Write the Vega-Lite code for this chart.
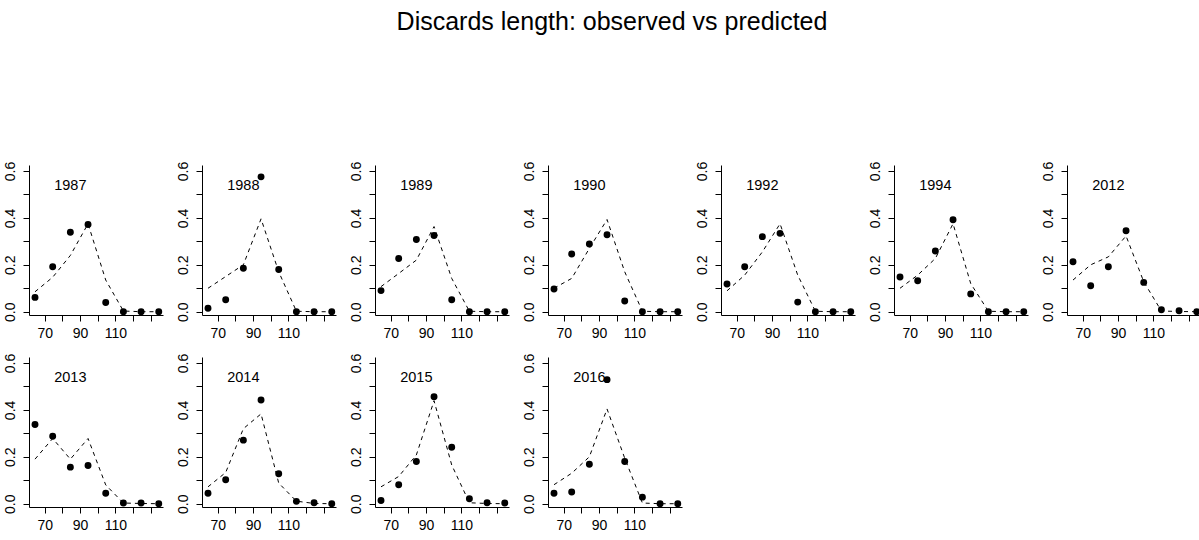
{
  "$schema": "https://vega.github.io/schema/vega-lite/v6.json",
  "padding": {"left": 2, "top": 10, "right": 0, "bottom": 0},
  "background": "white",
  "title": {"text": "Discards length: observed vs predicted", "anchor": "middle", "fontSize": 25, "fontWeight": "normal", "font": "Liberation Sans", "color": "black", "offset": 126, "dx": 10},
  "data": {"values": [
    {"year":"1987","len":64.5,"obs":0.061,"pred":0.085},{"year":"1987","len":74.5,"obs":0.192,"pred":0.147},{"year":"1987","len":84.5,"obs":0.339,"pred":0.24},{"year":"1987","len":94.5,"obs":0.372,"pred":0.375},{"year":"1987","len":104.5,"obs":0.039,"pred":0.135},{"year":"1987","len":114.5,"obs":0,"pred":0.003},{"year":"1987","len":124.5,"obs":0,"pred":0},{"year":"1987","len":134.5,"obs":0,"pred":0},
    {"year":"1988","len":64.5,"obs":0.015,"pred":0.1},{"year":"1988","len":74.5,"obs":0.051,"pred":0.15},{"year":"1988","len":84.5,"obs":0.185,"pred":0.2},{"year":"1988","len":94.5,"obs":0.575,"pred":0.396},{"year":"1988","len":104.5,"obs":0.18,"pred":0.17},{"year":"1988","len":114.5,"obs":0,"pred":0.002},{"year":"1988","len":124.5,"obs":0,"pred":0},{"year":"1988","len":134.5,"obs":0,"pred":0},
    {"year":"1989","len":64.5,"obs":0.09,"pred":0.107},{"year":"1989","len":74.5,"obs":0.227,"pred":0.163},{"year":"1989","len":84.5,"obs":0.308,"pred":0.22},{"year":"1989","len":94.5,"obs":0.325,"pred":0.363},{"year":"1989","len":104.5,"obs":0.051,"pred":0.142},{"year":"1989","len":114.5,"obs":0,"pred":0.002},{"year":"1989","len":124.5,"obs":0,"pred":0},{"year":"1989","len":134.5,"obs":0,"pred":0},
    {"year":"1990","len":64.5,"obs":0.097,"pred":0.1},{"year":"1990","len":74.5,"obs":0.246,"pred":0.142},{"year":"1990","len":84.5,"obs":0.289,"pred":0.27},{"year":"1990","len":94.5,"obs":0.328,"pred":0.393},{"year":"1990","len":104.5,"obs":0.046,"pred":0.17},{"year":"1990","len":114.5,"obs":0,"pred":0.002},{"year":"1990","len":124.5,"obs":0,"pred":0},{"year":"1990","len":134.5,"obs":0,"pred":0},
    {"year":"1992","len":64.5,"obs":0.118,"pred":0.089},{"year":"1992","len":74.5,"obs":0.192,"pred":0.156},{"year":"1992","len":84.5,"obs":0.32,"pred":0.255},{"year":"1992","len":94.5,"obs":0.334,"pred":0.375},{"year":"1992","len":104.5,"obs":0.041,"pred":0.156},{"year":"1992","len":114.5,"obs":0,"pred":0.002},{"year":"1992","len":124.5,"obs":0,"pred":0},{"year":"1992","len":134.5,"obs":0,"pred":0},
    {"year":"1994","len":64.5,"obs":0.148,"pred":0.1},{"year":"1994","len":74.5,"obs":0.132,"pred":0.156},{"year":"1994","len":84.5,"obs":0.259,"pred":0.227},{"year":"1994","len":94.5,"obs":0.392,"pred":0.375},{"year":"1994","len":104.5,"obs":0.076,"pred":0.12},{"year":"1994","len":114.5,"obs":0,"pred":0.002},{"year":"1994","len":124.5,"obs":0,"pred":0},{"year":"1994","len":134.5,"obs":0,"pred":0},
    {"year":"2012","len":64.5,"obs":0.213,"pred":0.135},{"year":"2012","len":74.5,"obs":0.111,"pred":0.2},{"year":"2012","len":84.5,"obs":0.192,"pred":0.234},{"year":"2012","len":94.5,"obs":0.345,"pred":0.323},{"year":"2012","len":104.5,"obs":0.125,"pred":0.128},{"year":"2012","len":114.5,"obs":0.008,"pred":0.003},{"year":"2012","len":124.5,"obs":0.004,"pred":0.001},{"year":"2012","len":134.5,"obs":0,"pred":0},
    {"year":"2013","len":64.5,"obs":0.338,"pred":0.19},{"year":"2013","len":74.5,"obs":0.288,"pred":0.278},{"year":"2013","len":84.5,"obs":0.156,"pred":0.19},{"year":"2013","len":94.5,"obs":0.163,"pred":0.278},{"year":"2013","len":104.5,"obs":0.045,"pred":0.08},{"year":"2013","len":114.5,"obs":0.003,"pred":0.003},{"year":"2013","len":124.5,"obs":0.003,"pred":0.001},{"year":"2013","len":134.5,"obs":0,"pred":0},
    {"year":"2014","len":64.5,"obs":0.045,"pred":0.072},{"year":"2014","len":74.5,"obs":0.102,"pred":0.133},{"year":"2014","len":84.5,"obs":0.271,"pred":0.32},{"year":"2014","len":94.5,"obs":0.442,"pred":0.383},{"year":"2014","len":104.5,"obs":0.128,"pred":0.088},{"year":"2014","len":114.5,"obs":0.01,"pred":0.011},{"year":"2014","len":124.5,"obs":0.004,"pred":0.001},{"year":"2014","len":134.5,"obs":0,"pred":0},
    {"year":"2015","len":64.5,"obs":0.014,"pred":0.072},{"year":"2015","len":74.5,"obs":0.081,"pred":0.116},{"year":"2015","len":84.5,"obs":0.18,"pred":0.208},{"year":"2015","len":94.5,"obs":0.456,"pred":0.439},{"year":"2015","len":104.5,"obs":0.241,"pred":0.165},{"year":"2015","len":114.5,"obs":0.021,"pred":0.004},{"year":"2015","len":124.5,"obs":0.004,"pred":0.001},{"year":"2015","len":134.5,"obs":0.003,"pred":0},
    {"year":"2016","len":64.5,"obs":0.045,"pred":0.081},{"year":"2016","len":74.5,"obs":0.05,"pred":0.13},{"year":"2016","len":84.5,"obs":0.168,"pred":0.2},{"year":"2016","len":94.5,"obs":0.529,"pred":0.404},{"year":"2016","len":104.5,"obs":0.18,"pred":0.194},{"year":"2016","len":114.5,"obs":0.028,"pred":0.003},{"year":"2016","len":124.5,"obs":0,"pred":0},{"year":"2016","len":134.5,"obs":0,"pred":0}
  ]},
  "facet": {"field": "year", "type": "nominal", "header": {"title": null, "labels": false, "labelExpr": "''", "labelFontSize": 0, "labelPadding": 0, "labelLimit": 1}},
  "columns": 7,
  "spacing": {"column": 39, "row": 42},
  "bounds": "flush",
  "resolve": {"axis": {"x": "independent", "y": "independent"}},
  "spec": {
    "width": 134,
    "height": 150,
    "encoding": {
      "x": {"field": "len", "type": "quantitative", "title": null,
            "scale": {"domain": [61.1, 136.9], "nice": false, "zero": false},
            "axis": {"values": [70, 80, 90, 100, 110, 120, 130], "labelExpr": "(datum.value == 70 || datum.value == 90 || datum.value == 110) ? datum.value : ''", "labelOverlap": false, "labelFlush": false, "labelPadding": 5}},
      "y": {"field": "obs", "type": "quantitative", "title": null,
            "scale": {"domain": [-0.014, 0.6255], "nice": false, "zero": false},
            "axis": {"values": [0, 0.1, 0.2, 0.3, 0.4, 0.5, 0.6], "labelExpr": "(round(datum.value * 10) % 2 == 0) ? format(datum.value, '.1f') : ''", "labelOverlap": false, "labelFlush": false, "labelAngle": 270, "labelAlign": "center", "labelBaseline": "bottom", "labelPadding": 6}}
    },
    "layer": [
      {"mark": {"type": "line", "strokeDash": [4, 4], "strokeWidth": 1, "color": "black"},
       "encoding": {"y": {"field": "pred", "type": "quantitative"}}},
      {"mark": {"type": "circle", "size": 48, "opacity": 1, "color": "black"}},
      {"transform": [{"filter": "datum.len == 64.5"}],
       "mark": {"type": "text", "fontSize": 14.5, "align": "center", "baseline": "middle", "color": "black"},
       "encoding": {"x": {"datum": 84.5, "type": "quantitative"}, "y": {"datum": 0.537, "type": "quantitative"}, "text": {"field": "year", "type": "nominal"}}}
    ]
  },
  "config": {
    "font": "Liberation Sans",
    "view": {"stroke": null},
    "header": {"labels": false, "title": null},
    "axis": {"grid": false, "domainColor": "black", "tickColor": "black", "labelColor": "black", "labelFontSize": 14, "labelFont": "Liberation Sans", "tickSize": 6, "domainWidth": 1, "tickWidth": 1}
  }
}
